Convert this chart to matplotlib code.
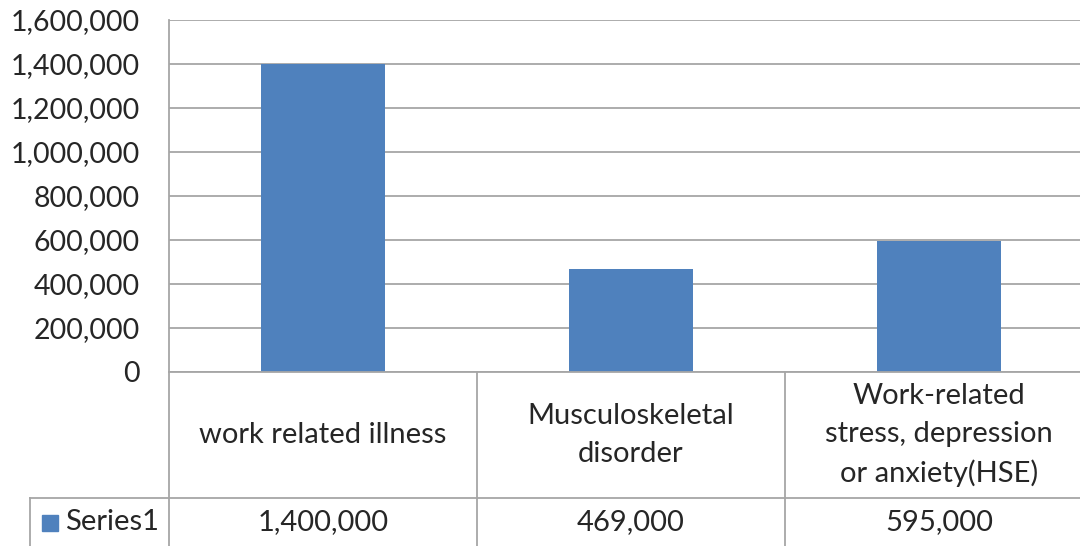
import matplotlib.pyplot as plt
from matplotlib.lines import Line2D
from matplotlib.patches import Rectangle
from matplotlib.ticker import FuncFormatter

categories = ["work related illness",
              "Musculoskeletal\ndisorder",
              "Work-related\nstress, depression\nor anxiety(HSE)"]
values = [1400000, 469000, 595000]
series_name = "Series1"
yticks = [0, 200000, 400000, 600000, 800000, 1000000, 1200000, 1400000, 1600000]

W, H = 1080, 546
bar_color = "#4F81BD"
grid_color = "#A6A6A6"
text_color = "#262626"
fs = 21
fs_tick = 20.5

plt.rcParams['font.family'] = ['Lato', 'DejaVu Sans']

fig = plt.figure(figsize=(W / 100, H / 100), dpi=100)
# plot area: x from 169 px to 1093 px (cut off by image edge), y from 20 to 372 px
ax_left, ax_right, ax_top, ax_bottom = 169, 1093, 20, 372
ax = fig.add_axes([ax_left / W, 1 - ax_bottom / H,
                   (ax_right - ax_left) / W, (ax_bottom - ax_top) / H])

x = list(range(len(categories)))
ax.bar(x, values, width=0.4, color=bar_color, zorder=3)
ax.set_xlim(-0.5, len(categories) - 0.5)
ax.set_ylim(0, 1600000)
ax.set_yticks(yticks)
ax.yaxis.set_major_formatter(FuncFormatter(lambda v, p: f"{int(v):,}"))
ax.tick_params(axis='y', length=0, pad=21, labelsize=fs_tick, labelcolor=text_color)
ax.set_xticks([])
ax.grid(axis='y', color=grid_color, linewidth=1.3, zorder=0)
for s in ['top', 'right', 'bottom']:
    ax.spines[s].set_visible(False)
ax.spines['left'].set_color(grid_color)
ax.spines['left'].set_linewidth(1.3)


def fx(px):
    return px / W


def fy(py):
    return 1 - py / H


def hline(x0, x1, y):
    fig.add_artist(Line2D([fx(x0), fx(x1)], [fy(y), fy(y)], color=grid_color, lw=1.3))


def vline(xp, y0, y1):
    fig.add_artist(Line2D([fx(xp), fx(xp)], [fy(y0), fy(y1)], color=grid_color, lw=1.3))


# data table below the plot
cell_w = (ax_right - ax_left) / len(categories)
row1_bottom = 498
hline(ax_left, W, ax_bottom)
hline(30, W, row1_bottom)
vline(30, row1_bottom, H)
for i in range(len(categories) + 1):
    xp = ax_left + i * cell_w
    vline(xp, ax_bottom, H)

for i, (c, v) in enumerate(zip(categories, values)):
    cx = ax_left + (i + 0.5) * cell_w
    fig.text(fx(cx), fy((ax_bottom + row1_bottom) / 2), c, ha='center', va='center',
             fontsize=fs, color=text_color, linespacing=1.55)
    fig.text(fx(cx), fy(522), f"{v:,}", ha='center', va='center',
             fontsize=fs, color=text_color)

fig.add_artist(Rectangle((fx(42), fy(531)), 16 / W, 16 / H, color=bar_color,
                         transform=fig.transFigure))
fig.text(fx(65), fy(522), series_name, ha='left', va='center',
         fontsize=fs, color=text_color)

fig.savefig("out.png", dpi=100)
